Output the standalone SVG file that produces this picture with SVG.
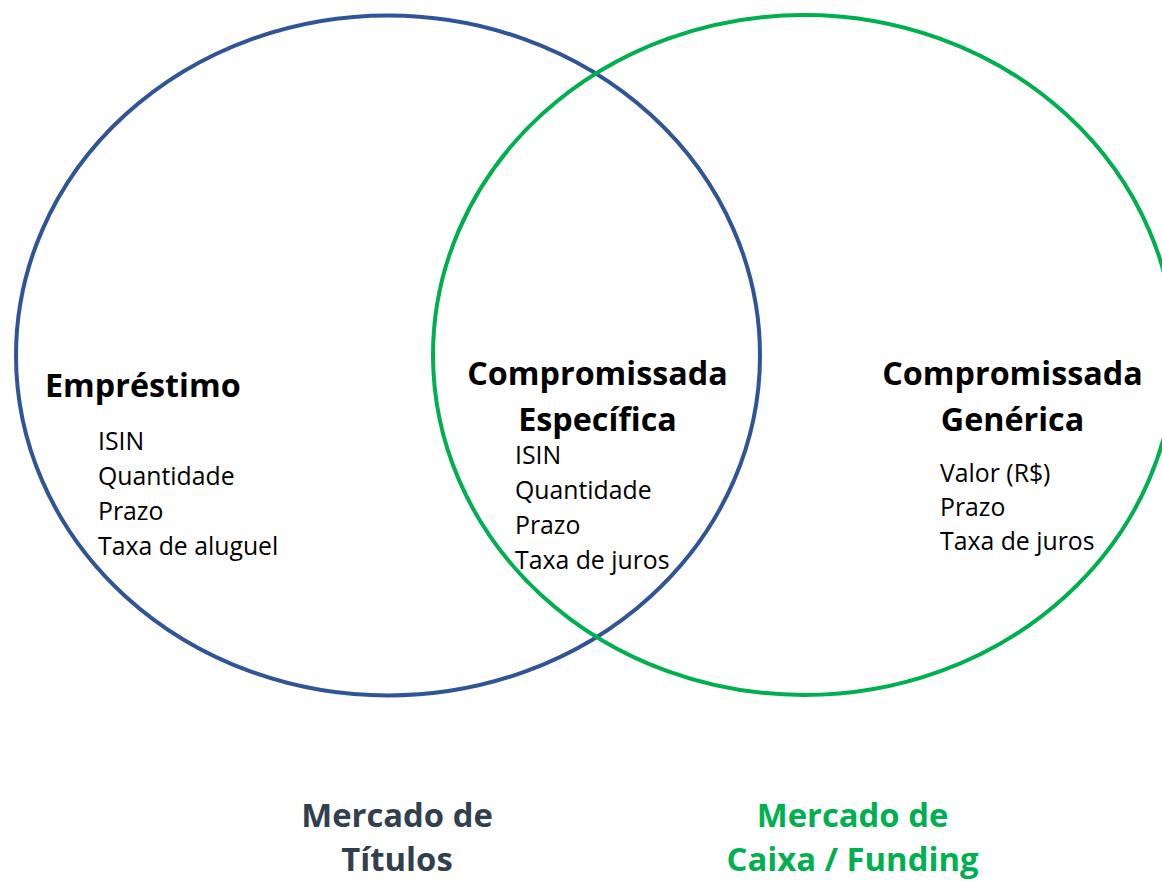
<svg xmlns="http://www.w3.org/2000/svg" width="1162" height="881" viewBox="0 0 1162 881">
<style>
.h{font-family:"Open Sans","Liberation Sans",sans-serif;font-weight:bold;font-size:32.3px;fill:#000}
.b{font-family:"Open Sans","Liberation Sans",sans-serif;font-size:24.8px;fill:#000}
.m{font-family:"Open Sans","Liberation Sans",sans-serif;font-weight:bold;font-size:32.8px;text-anchor:middle}
</style>
<rect width="1162" height="881" fill="#fff"/>
<g id="connectors"></g>
<g id="titulos-circle"><ellipse cx="388" cy="355.5" rx="372" ry="340" fill="none" stroke="#2F5597" stroke-width="4"/></g>
<g id="caixa-circle"><ellipse cx="804" cy="355" rx="371" ry="340" fill="none" stroke="#00B050" stroke-width="4"/></g>
<g id="emprestimo">
<text class="h" x="45" y="397">Empréstimo</text>
<text class="b" x="98" y="450">ISIN</text>
<text class="b" x="98" y="485">Quantidade</text>
<text class="b" x="98" y="520">Prazo</text>
<text class="b" x="98" y="555">Taxa de aluguel</text>
</g>
<g id="especifica">
<text class="h" x="597.5" y="385" text-anchor="middle">Compromissada</text>
<text class="h" x="597.5" y="431" text-anchor="middle">Específica</text>
<text class="b" x="515" y="464">ISIN</text>
<text class="b" x="515" y="499">Quantidade</text>
<text class="b" x="515" y="534">Prazo</text>
<text class="b" x="515" y="569">Taxa de juros</text>
</g>
<g id="generica">
<text class="h" x="1012.5" y="385" text-anchor="middle">Compromissada</text>
<text class="h" x="1012.5" y="431" text-anchor="middle">Genérica</text>
<text class="b" x="940" y="482">Valor (R$)</text>
<text class="b" x="940" y="516">Prazo</text>
<text class="b" x="940" y="550">Taxa de juros</text>
</g>
<g id="mercado-titulos">
<text class="m" x="397" y="827" fill="#323F4F">Mercado de</text>
<text class="m" x="397" y="871" fill="#323F4F">Títulos</text>
</g>
<g id="mercado-caixa">
<text class="m" x="852.5" y="827" fill="#00B050">Mercado de</text>
<text class="m" x="852.5" y="871" fill="#00B050">Caixa / Funding</text>
</g>
</svg>
